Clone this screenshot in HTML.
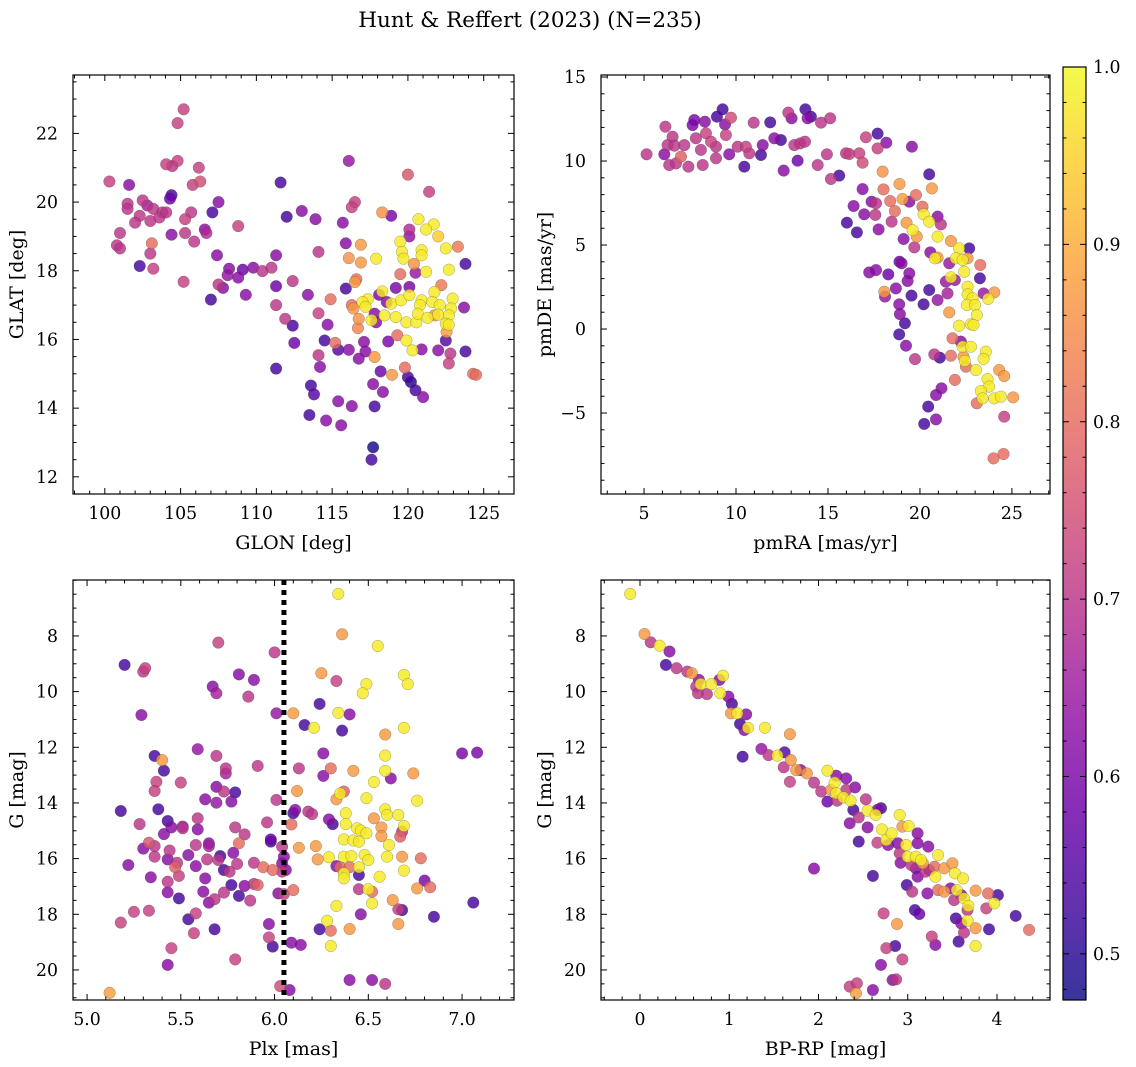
<!DOCTYPE html>
<html><head><meta charset="utf-8"><style>
html,body{margin:0;padding:0;background:#fff;}
svg{display:block;font-family:"DejaVu Serif","Liberation Serif",serif;}
</style></head><body>
<svg id="fig" width="1136" height="1067" viewBox="0 0 1136 1067" xmlns="http://www.w3.org/2000/svg">
<text x="530" y="27" text-anchor="middle" font-size="21.5">Hunt &amp; Reffert (2023) (N=235)</text>
</svg>
<script>
// ---- data: [x, y, membership probability] ----
const glonGlat = [
[105.2,22.7,.72],[104.8,22.3,.72],[104.05,21.1,.72],[104.45,21.05,.70],[104.8,21.2,.72],[106.2,21.0,.72],[100.3,20.6,.72],[101.6,20.5,.62],[105.8,20.5,.72],[106.3,20.6,.75],[104.3,20.1,.58],[104.4,20.2,.53],
[101.5,19.95,.70],[101.5,19.8,.70],[102.5,20.05,.70],[102.8,19.9,.66],[103.2,19.8,.70],[103.8,19.7,.70],[102.3,19.6,.70],[102.0,19.4,.70],[103.0,19.45,.70],[103.6,19.55,.70],[104.05,19.7,.70],
[107.5,20.0,.62],[107.1,19.7,.53],[105.3,19.5,.72],[105.7,19.7,.70],[106.6,19.2,.62],[106.7,19.1,.68],[101.0,19.1,.70],[104.4,19.05,.62],[105.3,19.1,.70],[105.9,18.85,.70],[108.8,19.3,.72],[100.8,18.74,.70],[101.0,18.65,.70],[103.1,18.8,.80],[103.0,18.5,.70],[102.3,18.14,.53],[103.2,18.06,.72],[105.2,17.68,.72],[107.4,18.45,.62],
[111.6,20.57,.53],[112.0,19.57,.53],[113.0,19.74,.62],[113.9,19.5,.62],[114.1,18.55,.70],[111.3,18.45,.62],[108.2,18.06,.62],[108.1,17.87,.64],[109.1,18.03,.58],[109.8,18.09,.62],[110.4,17.99,.70],[111.0,18.09,.70],[107.5,17.6,.70],[107.8,17.5,.62],[108.8,17.8,.62],[109.3,17.3,.62],[107.0,17.16,.53],
[111.3,17.55,.58],[111.3,17.0,.70],[111.9,16.6,.70],[112.4,17.7,.70],[113.4,17.3,.62],[112.4,16.4,.53],[112.5,15.9,.58],[111.3,15.15,.53],[114.1,16.76,.72],[114.9,17.17,.80],[114.7,16.43,.62],[114.5,15.97,.53],[115.2,15.9,.80],[115.4,15.7,.55],[116.1,15.7,.62],
[114.1,15.54,.70],[114.2,15.2,.62],[113.6,14.66,.53],[113.8,14.4,.55],[115.4,14.2,.62],[116.3,14.06,.62],[113.5,13.8,.53],[114.6,13.64,.62],[115.6,13.5,.62],[117.7,12.86,.48],[117.6,12.5,.53],
[116.1,21.2,.64],[116.5,20.0,.72],[116.3,19.85,.72],[115.7,19.4,.62],[115.9,18.8,.62],[120.0,20.8,.76],[121.4,20.3,.72],[118.3,19.7,.86],[118.9,19.6,.60],
[120.7,19.5,.98],[121.7,19.35,.98],[121.2,19.2,.98],[122.0,19.0,.94],[120.1,19.2,.68],[120.1,19.0,.64],[119.5,18.85,.98],[119.6,18.55,.98],[119.7,18.35,.98],[120.9,18.6,.98],[120.9,18.45,.98],[122.5,18.65,.98],[123.3,18.7,.82],
[120.4,18.2,.86],[121.2,17.97,.98],[122.7,18.03,.98],[123.8,18.2,.53],[116.9,18.76,.87],[116.1,18.37,.86],[116.9,18.24,.87],[117.9,18.35,.98],[119.5,17.9,.80],[120.5,17.94,.64],[116.6,17.75,.80],[116.5,17.67,.87],[115.9,17.48,.53],
[118.3,17.4,.98],[119.2,17.5,.60],[120.1,17.53,.60],[117.35,17.17,.98],[117.0,17.09,.98],[117.2,16.95,.98],[118.1,17.3,.60],[118.6,17.09,.62],[118.9,17.04,.98],[119.55,17.14,.98],[120.1,17.29,.98],[120.9,17.14,.98],[120.8,17.0,.98],[121.75,17.38,.98],[121.6,17.09,.98],[122.1,17.0,.98],[122.95,17.19,.98],[122.85,16.9,.98],[122.7,16.7,.98],[121.75,16.7,.86],[122.2,17.58,.82],[116.3,17.0,.80],[116.4,16.9,.87],
[117.6,16.56,.98],[118.45,16.7,.98],[119.2,16.65,.98],[119.9,16.5,.98],[120.55,16.5,.98],[120.65,16.75,.98],[121.3,16.63,.98],[122.0,16.72,.98],[122.5,16.46,.98],[122.7,16.43,.98],[122.55,16.22,.88],[123.7,16.93,.62],[116.75,16.6,.86],[116.7,16.33,.84],[117.8,16.75,.62],[117.9,16.5,.62],
[119.3,16.12,.80],[119.9,15.97,.98],[120.3,15.68,.98],[118.7,15.94,.60],[120.9,15.71,.62],[122.0,15.68,.62],[122.5,15.97,.55],[122.8,15.59,.70],[122.7,15.3,.72],[123.8,15.65,.53],[117.1,15.93,.62],[117.2,15.65,.62],[116.75,15.44,.62],[117.8,15.49,.87],
[118.2,15.07,.58],[119.8,15.18,.80],[118.95,14.97,.87],[120.0,14.9,.53],[120.2,14.76,.49],[120.5,14.52,.53],[121.0,14.32,.62],[117.7,14.7,.62],[118.35,14.47,.62],[117.8,14.05,.53],[124.3,15.0,.80],[124.5,14.97,.80]
];
const pmraPmde = [
[5.14,10.40,.70],[6.16,12.04,.70],[6.10,10.40,.62],[6.28,10.95,.70],[6.55,11.45,.70],[6.65,10.91,.70],[6.37,9.76,.70],[6.74,9.86,.70],[7.01,10.26,.78],[7.19,10.95,.70],[7.41,9.66,.70],[7.73,12.44,.60],[7.64,12.14,.60],[7.82,11.35,.70],[8.09,10.66,.70],[8.19,9.76,.70],[8.31,12.34,.62],[8.37,11.65,.72],[8.64,11.15,.72],[8.91,10.85,.70],[8.91,10.16,.70],[8.96,12.64,.53],[9.27,13.08,.53],[9.40,12.18,.62],[9.45,11.55,.72],[9.73,12.58,.74],[9.63,10.40,.62],[10.09,10.85,.70],[10.45,9.66,.53],[10.54,10.85,.72],[10.72,10.46,.70],[10.96,12.28,.70],[11.36,10.36,.53],[11.45,10.95,.62],[11.86,12.30,.53],[12.08,11.35,.62],[12.44,11.25,.53],[12.59,9.43,.62],[12.84,12.88,.70],[13.02,12.54,.62],[13.17,10.95,.70],[13.35,10.02,.58],[13.49,11.05,.70],[13.75,11.15,.70],[13.77,13.08,.53],[13.89,12.54,.62],[14.07,12.64,.53],[14.44,9.76,.70],[14.62,12.28,.70],[14.94,10.40,.70],[15.12,12.54,.70],[15.16,8.93,.70],[15.61,9.13,.53],[15.98,10.46,.70],[16.16,10.42,.72],[16.70,10.46,.72],[16.88,9.90,.74],[17.06,11.41,.72],[17.70,11.63,.53],[17.70,10.75,.72],[18.17,11.09,.62],[19.56,10.85,.62],
[17.97,9.37,.86],[20.50,9.21,.53],[16.88,8.33,.62],[18.02,8.31,.80],[18.89,8.63,.87],[20.65,8.37,.87],[16.39,7.32,.62],[17.37,7.58,.62],[16.97,6.83,.62],[17.61,7.48,.70],[17.57,6.79,.70],[18.38,7.62,.80],[18.64,7.02,.80],[18.46,6.39,.70],[19.05,7.74,.88],[19.42,7.58,.62],[19.78,7.98,.80],[20.14,7.28,.80],[16.03,6.33,.53],[16.57,5.75,.53],[17.75,5.93,.62],[19.27,6.33,.87],[19.60,5.89,.98],[19.83,5.50,.87],[20.20,6.83,.98],[20.50,6.39,.98],[20.96,6.69,.62],[21.14,6.23,.70],[20.96,5.50,.98],[19.11,5.36,.62],[19.69,4.86,.70],[20.56,4.56,.62],[20.81,4.21,.98],[20.96,4.25,.87],[21.68,5.24,.87],[22.13,4.80,.98],[22.68,4.80,.53],[21.95,4.21,.98],[22.32,4.11,.98],[22.59,4.21,.87],[21.59,3.91,.64],[22.41,3.41,.98],[23.28,3.81,.80],
[17.24,3.37,.62],[17.61,3.51,.62],[18.89,4.01,.58],[19.00,3.91,.62],[18.28,3.25,.58],[19.42,3.31,.62],[19.33,2.86,.62],[21.68,3.08,.98],[21.90,2.92,.64],[21.41,2.82,.64],[23.26,3.02,.53],[18.06,2.22,.87],[18.10,1.93,.64],[18.69,2.42,.62],[19.54,1.99,.53],[20.20,1.47,.53],[20.50,2.32,.53],[20.96,1.73,.64],[21.50,2.12,.66],[21.59,0.99,.87],[22.59,2.52,.98],[22.59,2.06,.98],[22.86,1.83,.98],[22.55,1.43,.98],[22.99,1.43,.98],[23.46,2.12,.64],[23.71,1.79,.98],[24.04,2.18,.87],[18.87,1.47,.62],[18.91,0.89,.62],[19.18,0.34,.53],[18.87,-0.32,.53],[23.09,0.83,.98],[22.13,0.20,.98],[22.77,0.28,.98],[22.91,0.24,.98],[21.77,-0.55,.80],[22.22,-0.75,.62],[22.32,-1.05,.98],[22.77,-1.05,.98],[21.08,-1.71,.53],[20.78,-1.51,.70],[21.68,-1.59,.80],[22.37,-1.65,.87],[22.44,-1.90,.98],[22.50,-2.24,.80],[23.58,-1.35,.98],[23.46,-1.78,.98],[23.04,-2.44,.98],[19.24,-0.99,.62],[19.73,-1.79,.70],[21.90,-3.03,.80],[21.17,-3.53,.62],[20.87,-3.93,.62],[24.31,-2.44,.87],[24.58,-2.80,.87],[23.67,-2.98,.98],[23.76,-3.43,.98],[23.31,-3.69,.98],[23.40,-4.13,.98],[24.04,-4.13,.98],[24.40,-4.03,.98],[25.07,-4.07,.87],[23.09,-4.42,.80],[20.45,-4.62,.53],[20.87,-5.38,.62],[20.23,-5.65,.53],[24.58,-5.22,.72],[24.00,-7.70,.80],[24.54,-7.44,.80]
];
const plxG = [
[6.34,6.49,.98],[6.36,7.94,.87],[6.55,8.36,.98],[5.70,8.24,.72],[6.00,8.59,.70],[5.20,9.04,.53],[5.30,9.28,.70],[5.31,9.16,.72],[6.25,9.34,.87],[6.33,9.62,.72],[5.81,9.38,.62],[5.89,9.58,.62],[6.49,9.73,.98],[6.47,10.06,.98],[6.69,9.40,.98],[6.71,9.73,.98],[5.67,9.82,.62],[5.69,10.06,.66],[5.86,10.18,.70],[6.24,10.44,.53],[6.34,10.76,.98],[6.40,10.82,.62],[6.10,10.78,.87],[6.01,10.78,.64],[5.29,10.84,.62],[6.16,11.20,.53],[6.21,11.30,.98],[6.36,11.40,.53],[6.69,11.30,.98],[6.59,11.54,.87],[7.00,12.22,.60],[7.08,12.19,.60],[6.26,12.22,.62],[6.59,12.30,.98],[5.36,12.31,.53],[5.40,12.46,.87],[5.59,12.07,.64],[5.69,12.31,.70],[5.91,12.67,.70],[5.41,12.84,.53],[5.74,12.76,.70],[5.74,12.94,.66],[6.13,12.76,.70],[6.30,12.76,.80],[6.42,12.85,.87],[6.26,13.03,.62],[6.59,12.85,.98],[6.74,12.94,.87],[6.62,13.12,.62],[5.37,13.24,.72],[5.36,13.57,.72],[5.50,13.27,.72],[5.69,13.42,.62],[5.73,13.59,.70],[5.79,13.62,.53],[6.12,13.57,.87],[6.35,13.66,.98],[6.33,13.87,.87],[6.37,13.59,.78],[6.53,13.25,.98],[5.63,13.87,.62],[5.69,13.99,.64],[5.77,13.95,.62],[6.01,13.89,.70],[6.49,13.83,.98],[6.76,13.92,.98],
[5.18,14.29,.53],[5.38,14.23,.53],[5.28,14.76,.70],[6.10,14.37,.53],[6.11,14.25,.62],[6.18,14.31,.70],[6.20,14.40,.70],[6.29,14.59,.62],[6.31,14.76,.53],[6.38,14.37,.98],[6.38,14.76,.98],[6.59,14.23,.98],[6.60,14.43,.98],[6.66,14.43,.98],[6.69,14.83,.98],[6.53,14.55,.87],[6.57,14.88,.87],[5.43,14.65,.53],[5.45,14.88,.62],[5.51,14.85,.64],[5.51,14.91,.70],[5.59,14.55,.70],[5.59,14.95,.62],[5.79,14.88,.70],[5.84,15.13,.70],[5.96,14.70,.70],[6.09,14.77,.80],[5.41,15.12,.62],[5.33,15.43,.76],[5.36,15.55,.70],[5.30,15.64,.62],[5.36,15.93,.70],[5.58,15.51,.70],[5.65,15.45,.62],[5.65,15.55,.66],[5.81,15.45,.80],[5.98,15.31,.58],[5.98,15.39,.53],[6.04,15.57,.70],[6.13,15.61,.87],[6.22,15.55,.87],[6.44,14.91,.98],[6.46,14.99,.98],[6.49,15.09,.98],[6.37,15.31,.98],[6.42,15.35,.98],[6.45,15.39,.98],[6.57,15.19,.87],[6.68,15.03,.70],[6.67,15.21,.78],[6.61,15.51,.98],
[5.44,15.71,.70],[5.43,16.03,.62],[5.48,16.15,.70],[5.54,15.87,.62],[5.64,16.03,.70],[5.71,15.91,.53],[5.70,16.05,.70],[5.78,15.79,.62],[5.80,16.19,.70],[5.89,16.15,.70],[5.94,16.31,.80],[5.99,16.41,.80],[6.04,16.17,.62],[6.05,15.93,.62],[6.23,16.03,.87],[6.29,15.95,.98],[6.37,15.93,.98],[6.41,15.91,.98],[6.48,15.87,.98],[6.50,16.05,.98],[6.60,15.93,.98],[6.68,15.93,.87],[6.78,15.99,.80],[5.22,16.23,.62],[5.47,16.31,.78],[5.58,16.27,.62],[5.73,16.41,.53],[5.76,16.47,.70],[6.04,16.47,.70],[6.06,16.41,.62],[6.33,16.27,.62],[6.35,16.31,.80],[6.40,16.31,.80],[6.45,16.31,.98],[6.45,16.59,.53],[6.37,16.53,.98],[6.37,16.71,.98],[6.56,16.65,.98],[6.69,16.43,.98],
[5.49,16.62,.72],[5.34,16.67,.62],[5.63,16.71,.62],[5.43,16.83,.70],[5.77,16.95,.53],[5.84,16.98,.62],[5.89,16.91,.70],[5.91,16.95,.78],[6.02,17.25,.62],[6.05,17.27,.72],[6.10,17.13,.80],[6.45,17.10,.70],[6.50,17.10,.98],[6.52,17.19,.80],[6.76,17.07,.87],[6.80,16.79,.60],[6.83,17.03,.80],[5.43,17.21,.62],[5.49,17.43,.53],[5.62,17.19,.62],[5.73,17.22,.70],[5.81,17.34,.53],[5.87,17.51,.70],[5.65,17.58,.62],[5.68,17.46,.70],[6.52,17.61,.98],[6.63,17.49,.87],[6.66,17.82,.72],[6.68,17.85,.53],[6.33,17.70,.98],[7.06,17.58,.53],[5.25,17.91,.72],[5.33,17.87,.72],[5.58,17.97,.72],[5.54,18.18,.53],[6.46,18.00,.62],[6.85,18.09,.53],[5.18,18.30,.72],[6.28,18.23,.98],[5.57,18.68,.72],[5.68,18.54,.53],[5.97,18.35,.62],[6.24,18.54,.53],[6.30,18.59,.80],[6.40,18.53,.87],[6.66,18.35,.87],[5.97,18.83,.72],[5.99,19.16,.53],[6.09,19.02,.62],[6.14,19.10,.62],[6.30,19.14,.98],[5.45,19.22,.72],[5.79,19.62,.72],[5.43,19.82,.62],[6.40,20.36,.62],[6.52,20.36,.62],[6.59,20.50,.70],[6.03,20.58,.74],[6.08,20.72,.62],[5.12,20.82,.88]
];
const bprpG = [
[-0.11,6.49,.98],[0.05,7.93,.87],[0.12,8.23,.70],[0.22,8.35,.98],[0.33,8.56,.62],[0.29,9.04,.53],[0.41,9.16,.70],[0.53,9.28,.70],[0.58,9.34,.87],[0.66,9.58,.62],[0.63,9.82,.70],[0.68,9.73,.98],[0.80,9.73,.98],[0.65,10.06,.70],[0.75,10.09,.70],[0.89,9.58,.62],[0.93,9.43,.98],[0.90,10.06,.98],[0.99,10.18,.62],[1.03,10.44,.53],[1.02,10.78,.87],[1.09,10.78,.98],[1.19,10.82,.62],[1.12,11.16,.53],[1.17,11.38,.62],[1.21,11.30,.98],[1.40,11.30,.98],[1.68,11.53,.87],[1.15,12.34,.53],[1.36,12.06,.64],[1.44,12.28,.70],[1.54,12.30,.98],[1.62,12.18,.55],[1.61,12.72,.70],[1.69,12.46,.87],[1.75,12.82,.87],[1.87,12.94,.87],[1.68,13.24,.72],[1.80,12.82,.62],[1.95,13.27,.70],[2.03,13.59,.70],[2.10,13.95,.58],[2.14,13.53,.87],[2.10,12.84,.98],[2.18,13.27,.98],[2.20,13.65,.98],[2.21,13.92,.70],[2.20,13.02,.62],[2.31,13.12,.62],[2.31,13.53,.70],[2.28,13.80,.98],[2.36,13.92,.98],[2.41,13.44,.62],[2.39,14.25,.53],[2.35,14.73,.62],[2.45,14.52,.70],[2.53,13.87,.70],[2.55,14.28,.98],[2.55,14.88,.62],[2.45,15.39,.53],[2.66,15.43,.72],[2.64,14.43,.98],[2.70,14.19,.53],[2.66,14.25,.62],[2.71,14.95,.98],[2.76,15.33,.98],[2.78,15.51,.62],[2.82,15.09,.98],[2.89,15.45,.62],[2.91,14.43,.98],[2.94,14.85,.87],[3.01,14.83,.98],[2.91,15.81,.70],[2.92,16.15,.62],[2.98,15.51,.98],[3.11,15.09,.62],[3.11,15.45,.62],[3.23,15.57,.62],[3.00,15.93,.98],[3.09,15.93,.98],[3.15,16.05,.98],[3.04,16.23,.70],[3.09,16.35,.62],[3.17,16.17,.87],[3.20,16.47,.70],[3.24,16.41,.62],[3.34,15.87,.98],[3.30,16.29,.80],[3.31,16.65,.98],[3.41,16.35,.87],[3.50,16.17,.87],[3.53,16.53,.98],[3.62,16.71,.98],[3.11,16.65,.62],[2.99,16.95,.53],[3.05,17.19,.70],[3.22,17.25,.62],[3.34,17.13,.80],[3.41,17.19,.87],[3.48,17.07,.62],[3.55,17.13,.98],[3.60,17.31,.62],[3.52,17.49,.70],[3.63,17.43,.98],[3.68,17.70,.98],[3.67,17.85,.70],[3.76,17.15,.87],[3.90,17.25,.80],[4.01,17.31,.53],[3.97,17.61,.98],[3.88,17.79,.72],[2.61,16.62,.53],[1.95,16.36,.62],[2.73,17.97,.72],[2.88,18.35,.87],[3.08,17.85,.53],[3.13,17.99,.58],[3.54,18.15,.53],[3.60,18.33,.62],[3.67,18.23,.98],[3.76,18.50,.87],[3.63,18.66,.70],[3.57,18.98,.53],[3.91,18.54,.53],[4.21,18.06,.53],[4.36,18.56,.80],[3.76,19.14,.98],[3.27,18.80,.72],[3.31,19.10,.62],[2.76,19.22,.72],[2.86,19.14,.53],[2.94,19.62,.72],[2.70,19.82,.62],[2.83,20.36,.62],[2.87,20.34,.70],[2.35,20.60,.72],[2.43,20.48,.72],[2.42,20.84,.88],[2.61,20.72,.62]
];
// ---- ticks ----
const p1XTicks=[100,105,110,115,120,125], p1YTicks=[12,14,16,18,20,22];
const p2XTicks=[5,10,15,20,25], p2YTicks=[-5,0,5,10,15];
const p3XTicks=[5.0,5.5,6.0,6.5,7.0], p3XLabels=["5.0","5.5","6.0","6.5","7.0"];
const gTicks=[8,10,12,14,16,18,20];
const p4XTicks=[0,1,2,3,4];
const cbTicks=[0.5,0.6,0.7,0.8,0.9,1.0], cbLabels=["0.5","0.6","0.7","0.8","0.9","1.0"];
const plxCut=6.05;

const NS="http://www.w3.org/2000/svg";
const svg=document.getElementById('fig');
const CMIN=0.474, CMAX=1.0;
const TICKFS=17.3, LABFS=19;
const plasma=["#0d0887","#41049d","#6a00a8","#8f0da4","#b12a90","#cc4778","#e16462","#f2844b","#fca636","#fcce25","#f0f921"];
function hex(h){return [1,3,5].map(i=>parseInt(h.substr(i,2),16));}
function cmap(c){let t=(c-CMIN)/(CMAX-CMIN);t=Math.max(0,Math.min(1,t));const f=t*10,i=Math.min(9,Math.floor(f)),r=f-i;const a=hex(plasma[i]),b=hex(plasma[i+1]);return 'rgb('+a.map((v,k)=>Math.round(v+(b[k]-v)*r)).join(',')+')';}
function el(tag,attrs,parent){const e=document.createElementNS(NS,tag);for(const k in attrs)e.setAttribute(k,attrs[k]);(parent||svg).appendChild(e);return e;}

function panel(name,box,xd,yd,pts,xt,xl,yt,yl,xminor,yminor,xlab,ylab){
  const g=el('g',{});
  
  
  const sx=v=>box[0]+(v-xd[0])/(xd[1]-xd[0])*(box[1]-box[0]);
  const sy=v=>box[2]+(v-yd[0])/(yd[1]-yd[0])*(box[3]-box[2]);
  const pg=el('g',{},g);
  
  
  const sorted=pts.slice().sort((a,b)=>a[2]-b[2]);
  sorted.forEach(p=>{
    const c=el('circle',{cx:sx(p[0]).toFixed(1),cy:sy(p[1]).toFixed(1),r:5.8,fill:cmap(p[2]),'fill-opacity':0.82,stroke:'rgba(60,60,40,0.45)','stroke-width':0.5},pg);
    
    
  });
  const fr=el('rect',{x:box[0],y:box[2],width:box[1]-box[0],height:box[3]-box[2],fill:'none',stroke:'#000','stroke-width':1.2},g);
  
  
  const lo=Math.min(xd[0],xd[1]),hi=Math.max(xd[0],xd[1]);
  for(let v=Math.ceil(lo/xminor-1e-6)*xminor;v<=hi+1e-9;v+=xminor){
    const major=xt.some(t=>Math.abs(t-v)<1e-6);const L=major?6:3.5;const x=sx(v);
    el('line',{x1:x,x2:x,y1:box[3],y2:box[3]-L,stroke:'#000','stroke-width':1},g);
    el('line',{x1:x,x2:x,y1:box[2],y2:box[2]+L,stroke:'#000','stroke-width':1},g);
  }
  const ylo=Math.min(yd[0],yd[1]),yhi=Math.max(yd[0],yd[1]);
  for(let v=Math.ceil(ylo/yminor-1e-6)*yminor;v<=yhi+1e-9;v+=yminor){
    const major=yt.some(t=>Math.abs(t-v)<1e-6);const L=major?6:3.5;const y=sy(v);
    el('line',{x1:box[0],x2:box[0]+L,y1:y,y2:y,stroke:'#000','stroke-width':1},g);
    el('line',{x1:box[1],x2:box[1]-L,y1:y,y2:y,stroke:'#000','stroke-width':1},g);
  }
  xt.forEach((t,i)=>{const tx=el('text',{x:sx(t),y:box[3]+25,'text-anchor':'middle','font-size':TICKFS},g);tx.textContent=xl[i];
    
    });
  yt.forEach((t,i)=>{const tx=el('text',{x:box[0]-15,y:sy(t)+6,'text-anchor':'end','font-size':TICKFS},g);tx.textContent=yl[i];
    
    });
  const xa=el('text',{x:(box[0]+box[1])/2,y:box[3]+55,'text-anchor':'middle','font-size':LABFS},g);xa.textContent=xlab;
  
  
  const cx=box[0]-50,cy=(box[2]+box[3])/2;
  const ya=el('text',{x:cx,y:cy,'text-anchor':'middle','font-size':LABFS,transform:'rotate(-90 '+cx+' '+cy+')'},g);ya.textContent=ylab;
  
  
  return {sx,sy,g};
}
panel('glon-glat-panel',[73,514,75,494],[97.9,127.0],[23.7,11.5],glonGlat,p1XTicks,p1XTicks.map(String),p1YTicks,p1YTicks.map(String),1,0.5,'GLON [deg]','GLAT [deg]');
panel('pm-panel',[601,1050,75,494],[2.66,27.07],[15.12,-9.82],pmraPmde,p2XTicks,p2XTicks.map(String),p2YTicks,p2YTicks.map(v=>v<0?'\u2212'+(-v):String(v)),1,1,'pmRA [mas/yr]','pmDE [mas/yr]');
const p3=panel('plx-g-panel',[73,514,580,1000],[4.925,7.277],[5.99,21.08],plxG,p3XTicks,p3XLabels,gTicks,gTicks.map(String),0.1,0.5,'Plx [mas]','G [mag]');
panel('cmd-panel',[601,1050,580,1000],[-0.437,4.594],[5.99,21.08],bprpG,p4XTicks,p4XTicks.map(String),gTicks,gTicks.map(String),0.2,0.5,'BP-RP [mag]','G [mag]');
const cut=el('line',{x1:p3.sx(plxCut),x2:p3.sx(plxCut),y1:580,y2:1000,stroke:'#000','stroke-width':5,'stroke-dasharray':'5,5'},p3.g);



// colorbar
const cb=el('g',{});


const defs=el('defs',{},cb);
const lg=el('linearGradient',{id:'cbg',x1:0,y1:1,x2:0,y2:0},defs);
for(let i=0;i<=20;i++){el('stop',{offset:(i/20),'stop-color':cmap(CMIN+(CMAX-CMIN)*i/20),'stop-opacity':0.82},lg);}
el('rect',{x:1063,y:67,width:23,height:933,fill:'url(#cbg)',stroke:'#000','stroke-width':1.2},cb);
const cy=v=>1000-(v-CMIN)/(CMAX-CMIN)*933;
for(let v=0.48;v<=1.0001;v+=0.02){const major=cbTicks.some(t=>Math.abs(t-v)<1e-6);const y=cy(v);
  el('line',{x1:1086,x2:1086-(major?6:3.5),y1:y,y2:y,stroke:'#000','stroke-width':1},cb);
  el('line',{x1:1063,x2:1063+(major?6:3.5),y1:y,y2:y,stroke:'#000','stroke-width':1},cb);}
cbTicks.forEach((t,i)=>{const tx=el('text',{x:1093,y:cy(t)+6,'font-size':TICKFS},cb);tx.textContent=cbLabels[i];
  
  });
</script>
</body></html>
